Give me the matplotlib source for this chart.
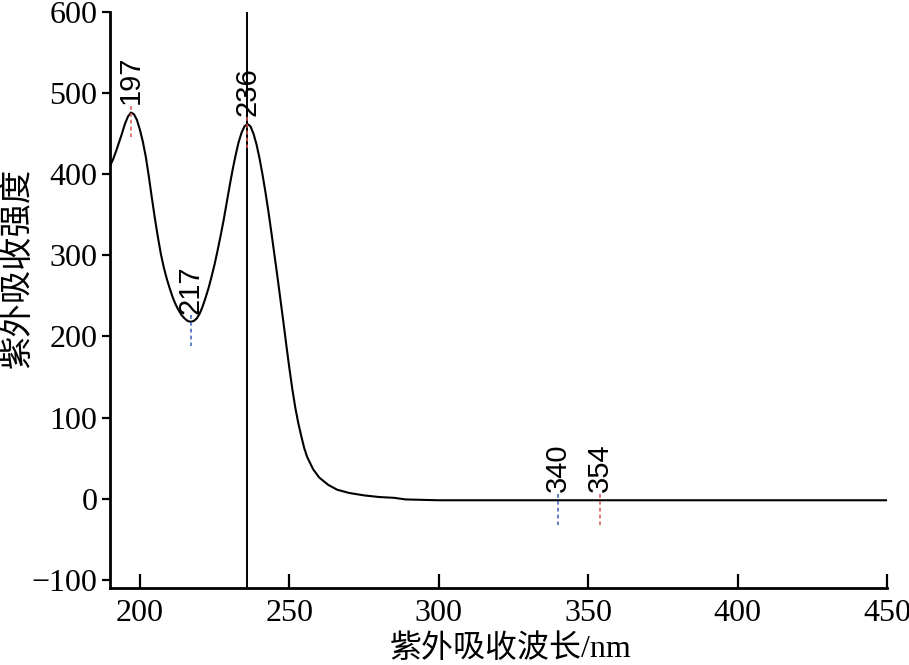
import matplotlib
matplotlib.use("Agg")
import matplotlib.pyplot as plt

# ---- data ----
wavelength = [190, 191, 192, 193, 194, 195, 196, 197, 198, 199, 200, 201, 202, 203, 204,
              205, 206, 207, 208, 209, 210, 211, 212, 213, 214, 215, 216, 217, 218, 219,
              220, 221, 222, 223, 224, 225, 226, 227, 228, 229, 230, 231, 232, 233, 234,
              235, 236, 237, 238, 239, 240, 241, 242, 243, 244, 245, 246, 247, 248, 249,
              250, 251, 252, 253, 254, 255, 256, 258, 260, 263, 266, 270, 275, 280,
              285, 289, 300, 350, 400, 450]
absorbance = [410, 418, 428, 439, 450, 462, 471, 476, 474, 467, 455, 440, 421, 397, 371,
              346, 323, 302, 285, 271, 259, 248, 239, 232, 226, 222, 219, 218, 219, 222,
              228, 237, 248, 260, 274, 289, 306, 324, 343, 364, 385, 405, 423, 439, 451,
              459, 462, 459, 450, 437, 420, 400, 378, 354, 328, 301, 274, 246, 218, 189,
              161, 135, 112, 93, 77, 62, 51, 36, 26, 17, 11, 7, 4, 2,
              1, -1, -2, -2, -2, -2]

peak_wl = [197, 217, 236, 340, 354]
peak_val = [476, 218, 462, -2, -2]
peak_kind = ["max", "min", "max", "min", "max"]
peak_labels = ["197", "217", "236", "340", "354"]

marker_line_x = 236

xticks = [200, 250, 300, 350, 400, 450]
yticks = [-100, 0, 100, 200, 300, 400, 500, 600]
xlabel = "紫外吸收波长/nm"
ylabel = "紫外吸收强度"

# ---- style ----
serif = ["Liberation Serif", "Noto Sans CJK SC"]
fig = plt.figure(figsize=(9.09, 6.65), dpi=100)
ax = fig.add_axes([0.121, 0.116, 0.855, 0.866])

ax.plot(wavelength, absorbance, color="black", lw=1.5)
ax.axvline(marker_line_x, color="black", lw=1.4)

colors = {"max": "#d9534f", "min": "#3a5bbf"}
for wl, v, kind, lab in zip(peak_wl, peak_val, peak_kind, peak_labels):
    ax.plot([wl, wl], [v + 8, v - 30], color=colors[kind], lw=1.1,
            linestyle=(0, (2.5, 2)))
    ax.text(wl, v + 10, lab, rotation=90, ha="center", va="bottom",
            fontsize=21, family="Liberation Sans")

ax.set_xlim(190, 450)
ax.set_ylim(-110, 600)
ax.set_xticks(xticks)
ax.set_yticks(yticks)
ax.set_yticklabels(["\u2212100" if t < 0 else str(t) for t in yticks])

for s in ["top", "right"]:
    ax.spines[s].set_visible(False)
for s in ["left", "bottom"]:
    ax.spines[s].set_linewidth(2)

ax.tick_params(axis="x", direction="in", length=10, width=1.6, labelsize=23, pad=8)
ax.tick_params(axis="y", direction="out", length=6, width=1.6, labelsize=23, pad=3)
for lbl in ax.get_xticklabels() + ax.get_yticklabels():
    lbl.set_family(serif)

ax.set_xlabel(xlabel, fontsize=23, family=serif)
ax.set_ylabel(ylabel, fontsize=24, family=serif)
ax.xaxis.set_label_coords(0.515, -0.08)
ax.yaxis.set_label_coords(-0.098, 0.556)

fig.savefig("out.png", dpi=100)
